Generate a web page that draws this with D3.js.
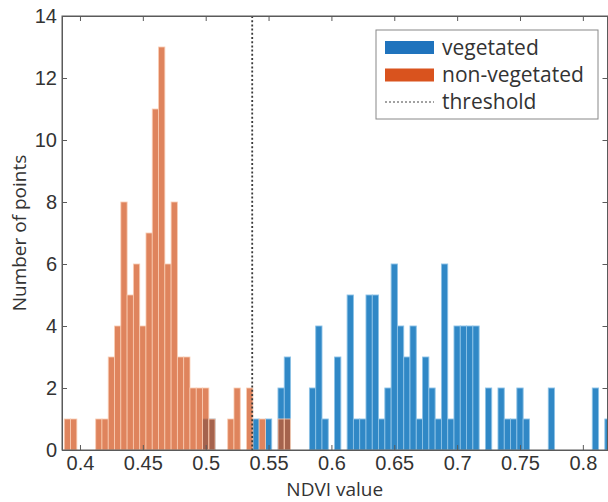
<!DOCTYPE html>
<html>
<head>
<meta charset="utf-8">
<script src="https://cdn.jsdelivr.net/npm/d3@7"></script>
<style>
  html, body { margin: 0; padding: 0; background: #fff; }
  svg { display: block; font-family: "Open Sans", "Noto Sans", sans-serif; }
</style>
</head>
<body>
<svg id="chart" width="608" height="502"></svg>
<script>
// Bin centres (width 0.005) and counts
const nonVegBins   = [0.390,0.395,0.415,0.420,0.425,0.430,0.435,0.440,0.445,0.450,0.455,0.460,0.465,0.470,0.475,0.480,0.485,0.490,0.495,0.500,0.505,0.520,0.525,0.535,0.545,0.560,0.565];
const nonVegCounts = [1,1,1,1,3,4,8,5,6,4,7,11,13,6,8,3,3,2,2,2,1,1,2,2,1,1,1];

const vegBins   = [0.500,0.505,0.540,0.550,0.560,0.565,0.585,0.590,0.595,0.605,0.615,0.620,0.625,0.630,0.635,0.640,0.645,0.650,0.655,0.660,0.665,0.670,0.675,0.680,0.685,0.690,0.695,0.700,0.705,0.710,0.715,0.725,0.735,0.740,0.745,0.750,0.755,0.775,0.810,0.820];
const vegCounts = [1,1,1,1,2,3,2,4,1,3,5,1,1,5,5,1,2,6,4,3,4,1,3,2,1,6,1,4,4,4,4,2,2,1,1,2,1,2,2,1];

const binWidth = 0.005;
const threshold = 0.537;
const xTicks = [0.4,0.45,0.5,0.55,0.6,0.65,0.7,0.75,0.8];
const yTicks = [0,2,4,6,8,10,12,14];
const legendLabels = ["vegetated","non-vegetated","threshold"];

(function() {
const svg = d3.select("#chart");
const pL = 62, pR = 607.5, pT = 16, pB = 450;

const x = d3.scaleLinear().domain([0.3857, 0.8196]).range([pL, pR]);
const y = d3.scaleLinear().domain([0, 14]).range([pB, pT]);

svg.append("clipPath").attr("id","clip")
  .append("rect").attr("x", pL).attr("y", pT).attr("width", pR-pL).attr("height", pB-pT);

const plot = svg.append("g").attr("clip-path","url(#clip)");

const veg = vegBins.map((b,i)=>({b, c: vegCounts[i]}));
const nonVeg = nonVegBins.map((b,i)=>({b, c: nonVegCounts[i]}));

plot.selectAll("rect.veg").data(veg).enter().append("rect")
  .attr("class","veg")
  .attr("x", d => x(d.b - binWidth/2))
  .attr("width", d => x(d.b + binWidth/2) - x(d.b - binWidth/2))
  .attr("y", d => y(d.c))
  .attr("height", d => y(0) - y(d.c))
  .attr("fill", "#3088c6")
  .attr("stroke", "#8cc2e6")
  .attr("stroke-width", 0.9);

plot.selectAll("rect.nonveg").data(nonVeg).enter().append("rect")
  .attr("class","nonveg")
  .attr("x", d => x(d.b - binWidth/2))
  .attr("width", d => x(d.b + binWidth/2) - x(d.b - binWidth/2))
  .attr("y", d => y(d.c))
  .attr("height", d => y(0) - y(d.c))
  .attr("fill", "rgba(210,85,30,0.72)")
  .attr("stroke", "rgba(250,205,180,0.9)")
  .attr("stroke-width", 0.9);

// threshold line
plot.append("line")
  .attr("x1", x(threshold)).attr("x2", x(threshold))
  .attr("y1", pT).attr("y2", pB)
  .attr("stroke", "#3a3a3a").attr("stroke-width", 1.8)
  .attr("stroke-dasharray", "2,2.2");

const axisColor = "#5a5a5a";
const textColor = "#333";

// Box
svg.append("rect").attr("x", pL).attr("y", pT)
  .attr("width", pR-pL).attr("height", pB-pT)
  .attr("fill","none").attr("stroke", axisColor).attr("stroke-width", 1);

// Axes with inward ticks
const xAxisB = d3.axisBottom(x).tickValues(xTicks).tickSizeInner(-5).tickSizeOuter(0)
  .tickPadding(10).tickFormat(d => String(+d.toFixed(2)));
const gx = svg.append("g").attr("transform", `translate(0,${pB})`).call(xAxisB);
gx.select(".domain").attr("stroke", axisColor);
gx.selectAll(".tick line").attr("stroke", axisColor);
gx.selectAll("text").attr("fill", textColor).style("font-size","20px")
  .attr("y", 6).attr("dy", "0.71em");

const xAxisT = d3.axisTop(x).tickValues(xTicks).tickSizeInner(-5).tickSizeOuter(0).tickFormat("");
const gxt = svg.append("g").attr("transform", `translate(0,${pT})`).call(xAxisT);
gxt.select(".domain").attr("stroke", axisColor);
gxt.selectAll(".tick line").attr("stroke", axisColor);

const yAxisL = d3.axisLeft(y).tickValues(yTicks).tickSizeInner(-5).tickSizeOuter(0).tickPadding(5);
const gy = svg.append("g").attr("transform", `translate(${pL},0)`).call(yAxisL);
gy.select(".domain").attr("stroke", axisColor);
gy.selectAll(".tick line").attr("stroke", axisColor);
gy.selectAll("text").attr("fill", textColor).style("font-size","20px");

const yAxisR = d3.axisRight(y).tickValues(yTicks).tickSizeInner(-5).tickSizeOuter(0).tickFormat("");
const gyr = svg.append("g").attr("transform", `translate(${pR},0)`).call(yAxisR);
gyr.select(".domain").attr("stroke", axisColor);
gyr.selectAll(".tick line").attr("stroke", axisColor);

// Axis labels
svg.append("text").attr("x", (pL+pR)/2).attr("y", 496)
  .attr("text-anchor","middle").attr("fill", textColor).style("font-size","19px")
  .text("NDVI value");
svg.append("text").attr("transform", `translate(26,${(pT+pB)/2}) rotate(-90)`)
  .attr("text-anchor","middle").attr("fill", textColor).style("font-size","19px")
  .text("Number of points");

// Legend
const lg = svg.append("g");
lg.append("rect").attr("x", 376).attr("y", 30).attr("width", 222).attr("height", 89)
  .attr("fill","#fff").attr("stroke","#888").attr("stroke-width",1);
const rowsY = [47.5, 75, 102];
lg.append("rect").attr("x", 385).attr("y", rowsY[0]-6.5).attr("width", 49).attr("height", 13).attr("fill", "#1f73bd");
lg.append("rect").attr("x", 385).attr("y", rowsY[1]-6.5).attr("width", 49).attr("height", 13).attr("fill", "#d9531e");
lg.append("line").attr("x1", 385).attr("x2", 434).attr("y1", rowsY[2]).attr("y2", rowsY[2])
  .attr("stroke","#444").attr("stroke-width",1).attr("stroke-dasharray","2,2");
legendLabels.forEach((t,i) => {
  lg.append("text").attr("x", 442).attr("y", rowsY[i]).attr("dy","0.35em")
    .attr("fill", textColor).style("font-size","21px").text(t);
});
})();
</script>
</body>
</html>
